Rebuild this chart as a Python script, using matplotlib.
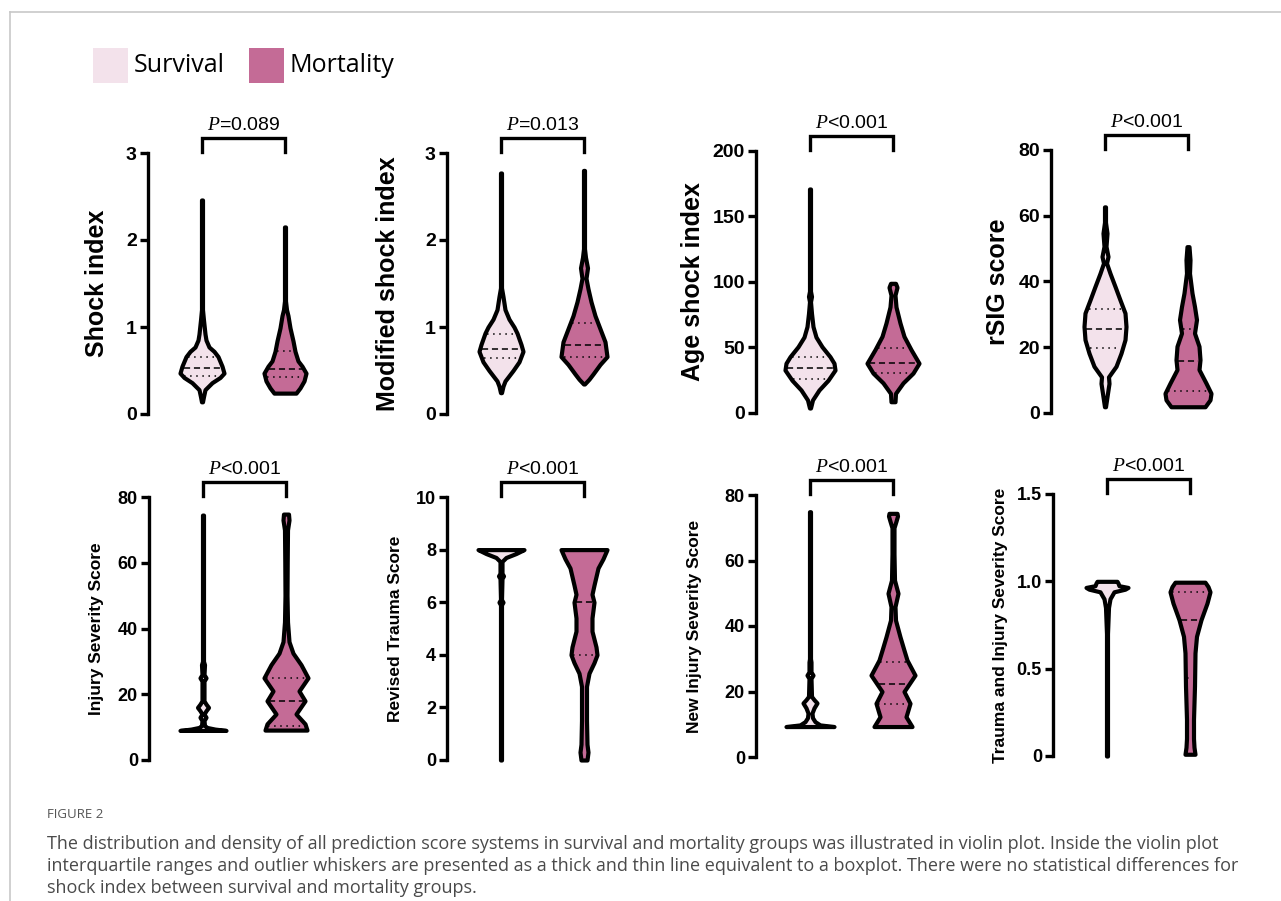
import numpy as np
import matplotlib.pyplot as plt
from matplotlib.patches import Rectangle
from matplotlib.lines import Line2D

plt.rcParams['font.family'] = ['Liberation Sans', 'DejaVu Sans']
plt.rcParams['mathtext.fontset'] = 'custom'
plt.rcParams['mathtext.it'] = 'Liberation Serif:italic'
plt.rcParams['mathtext.rm'] = 'Liberation Sans'

W, H = 1281, 901
SURV_COLOR = '#F3E2EB'
MORT_COLOR = '#C46B96'

# violin outlines: (score value, half width in px) for survival / mortality groups
SI_SURV = [(0.14, 0.5), (0.2, 1.5), (0.28, 3), (0.36, 10), (0.42, 18), (0.47, 22), (0.55, 20),
           (0.66, 16), (0.72, 12), (0.77, 7), (0.85, 4), (0.92, 3), (1.08, 1.5), (1.2, 0.5), (2.46, 0.5)]
SI_MORT = [(0.24, 11), (0.3, 15), (0.38, 19), (0.47, 21), (0.55, 17), (0.61, 13), (0.72, 10),
           (0.84, 8), (0.99, 5), (1.13, 3), (1.2, 1.5), (1.3, 0.5), (2.15, 0.5)]

MSI_SURV = [(0.245, 0.5), (0.32, 2), (0.38, 4), (0.5, 12), (0.6, 18), (0.72, 22), (0.8, 20),
            (0.93, 16), (1.0, 13), (1.09, 8), (1.2, 4), (1.35, 2), (1.45, 0.5), (2.77, 0.5)]
MSI_MORT = [(0.345, 0.5), (0.4, 5), (0.46, 9), (0.57, 16), (0.66, 23), (0.83, 21), (0.98, 16),
            (1.13, 11), (1.29, 7), (1.44, 4), (1.56, 2), (1.68, 3.5), (1.8, 1.5), (1.9, 0.5), (2.8, 0.5)]

ASI_SURV = [(3.8, 0.5), (10, 2.5), (17.6, 9), (25, 18), (32.8, 25), (38, 24), (43, 20), (50.6, 12),
            (58, 6), (66, 3), (76, 1.5), (85, 0.5), (89, 1.5), (93, 0.5), (171, 0.5)]
ASI_MORT = [(8.6, 2), (15, 2.5), (23, 10), (30.5, 20), (38, 26), (48.4, 18), (58.5, 11),
            (68.7, 7), (81, 3), (90, 2), (96, 4), (99, 2.5)]

RSIG_SURV = [(1.9, 0.5), (6, 2.5), (9, 4), (11, 3.5), (14.2, 11), (18.2, 16), (22.3, 20), (26.3, 21),
             (30.4, 20), (34.4, 15), (38.5, 10), (42.5, 5), (45.6, 1.5), (47.6, 3), (50.7, 1),
             (54.7, 2), (58, 0.5), (62.7, 0.5)]
RSIG_MORT = [(1.9, 17), (4, 22), (6, 23), (9.1, 18), (13.2, 11), (16.2, 12), (20.3, 11), (24.3, 6.5),
             (28.4, 8.5), (32.4, 6.5), (36.5, 4), (42.5, 1.5), (46.6, 2), (50.6, 1)]

ISS_SURV = [(9.0, 23), (9.4, 12), (9.9, 4), (10.5, 1.5), (12, 1), (13, 3), (14, 1), (15, 3),
            (16, 5.5), (17, 3), (18, 1), (24, 1), (25, 3), (26, 1), (29, 1.5), (30, 0.5), (74.5, 0.5)]
ISS_MORT = [(9.1, 21), (11, 19), (14, 10), (18, 19), (21, 13), (25, 22), (29, 15), (32.5, 7),
            (36, 3), (42, 1.5), (50, 1), (60, 1.2), (70, 1.5), (73, 3), (74.8, 2.5)]

RTS_SURV = [(0, 0.5), (5.9, 0.5), (6, 2), (6.1, 0.5), (6.9, 1), (7, 2.5), (7.1, 1), (7.55, 1),
            (7.7, 5), (7.85, 15), (8.0, 23)]
RTS_MORT = [(0, 3), (0.3, 4), (0.6, 3), (1.5, 2.5), (2.8, 2.5), (3.3, 5), (3.7, 10), (4.0, 13),
            (4.3, 12), (4.9, 8), (5.4, 8), (6.0, 10), (6.3, 8), (6.65, 10), (7.3, 14), (7.65, 19), (8.0, 23)]

NISS_SURV = [(9.3, 24), (9.8, 10), (10.8, 5), (12, 2.5), (13.4, 2), (15, 4), (16.5, 7), (17.5, 4),
             (18.5, 1.5), (24, 1), (25, 3), (26, 1), (29, 1), (30, 0.5), (74.9, 0.5)]
NISS_MORT = [(9.3, 19), (12.3, 13), (16.4, 17), (20, 11), (25, 22), (29.6, 14), (32.6, 11),
             (36.7, 7), (41.8, 2.5), (45.9, 2), (50, 5), (54, 1.5), (62, 1), (70, 1), (72, 3),
             (73.6, 4.5), (74.4, 4)]

TRISS_SURV = [(0, 0.5), (0.7, 0.5), (0.85, 1.5), (0.9, 3), (0.94, 7), (0.955, 18), (0.965, 21),
              (0.975, 12), (0.99, 11), (1.0, 10)]
TRISS_MORT = [(0.01, 5), (0.05, 4), (0.1, 3.5), (0.21, 3.5), (0.4, 4.5), (0.59, 5), (0.685, 6.5),
              (0.78, 11), (0.875, 17), (0.94, 20), (0.97, 18), (0.995, 15)]

# (Q1, median, Q3) per group; None where the lines are hidden in the outline
SI_Q = [(0.44, 0.53, 0.65), (0.43, 0.52, 0.72)]
MSI_Q = [(0.64, 0.75, 0.92), (0.65, 0.79, 1.05)]
ASI_Q = [(26, 34, 43), (30.5, 38, 49.6)]
RSIG_Q = [(19.7, 25.5, 31.6), (6.6, 15.7, 25.7)]
ISS_Q = [None, (10.3, 18, 25)]
RTS_Q = [None, (4.0, 6.0, None)]
NISS_Q = [None, (16.2, 22.3, 29)]
TRISS_Q = [None, (0.446, 0.78, 0.94)]

TITLES = ['Shock index', 'Modified shock index', 'Age shock index', 'rSIG score',
          'Injury Severity Score', 'Revised Trauma Score', 'New Injury Severity Score',
          'Trauma and Injury Severity Score']
P_TEXT = ['=0.089', '=0.013', '<0.001', '<0.001', '<0.001', '<0.001', '<0.001', '<0.001']
Y_TICKS = [[0, 1, 2, 3], [0, 1, 2, 3], [0, 50, 100, 150, 200], [0, 20, 40, 60, 80],
           [0, 20, 40, 60, 80], [0, 2, 4, 6, 8, 10], [0, 20, 40, 60, 80], [0, 0.5, 1.0, 1.5]]
Y_TICKLABELS = [None, None, None, None, None, None, None, ['0', '0.5', '1.0', '1.5']]

PROFILES = [(SI_SURV, SI_MORT), (MSI_SURV, MSI_MORT), (ASI_SURV, ASI_MORT), (RSIG_SURV, RSIG_MORT),
            (ISS_SURV, ISS_MORT), (RTS_SURV, RTS_MORT), (NISS_SURV, NISS_MORT), (TRISS_SURV, TRISS_MORT)]
QUARTILES = [SI_Q, MSI_Q, ASI_Q, RSIG_Q, ISS_Q, RTS_Q, NISS_Q, TRISS_Q]

# panel frames in pixels: spine x, top tick y, zero y, ylabel offset
FRAMES = [(148, 153, 414, 51), (447, 153, 414, 59), (756, 151, 413, 63), (1051, 150, 413, 53),
          (149, 497, 760, 52), (447, 497, 760, 52), (756, 495, 757, 62), (1053, 494, 756, 53)]
AX_W = 200
UNIT = 83  # px per category step
X0 = 54    # px from spine to first violin

fig = plt.figure(figsize=(W / 100, H / 100), dpi=100)

# frame lines round the figure panel
fig.add_artist(Line2D([10 / W, 1], [1 - 12 / H, 1 - 12 / H], color='#c8c8c8', lw=1.2))
fig.add_artist(Line2D([10 / W, 10 / W], [0, 1 - 12 / H], color='#c8c8c8', lw=1.2))

# legend
for x, col, name in [(93, SURV_COLOR, 'Survival'), (249, MORT_COLOR, 'Mortality')]:
    fig.add_artist(Rectangle((x / W, 1 - 83 / H), 35 / W, 35 / H, facecolor=col,
                             edgecolor='none', transform=fig.transFigure))
    fig.text((x + 41) / W, 1 - 66 / H, name, fontsize=18, family=['Open Sans', 'DejaVu Sans'],
             va='center', ha='left')


def draw_violin(ax, center, profile, color, quart):
    v = np.array([p[0] for p in profile])
    w = np.array([p[1] for p in profile]) / UNIT
    ax.fill_betweenx(v, center - w, center + w, facecolor=color, edgecolor='black',
                     linewidth=3.0, joinstyle='round', clip_on=False, zorder=2)
    if quart is None:
        return
    for q, ls in zip(quart, [(0, (1, 3)), (0, (4, 2.5)), (0, (1, 3))]):
        if q is None:
            continue
        hw = np.interp(q, v, w) - 2 / UNIT
        ax.plot([center - hw, center + hw], [q, q], color='black', lw=1.1, ls=ls,
                zorder=3, clip_on=False)


for i in range(8):
    sx, ytop, yzero, loff = FRAMES[i]
    ax_h = yzero - ytop
    ax = fig.add_axes([sx / W, 1 - yzero / H, AX_W / W, ax_h / H])
    ticks = Y_TICKS[i]
    ax.set_ylim(0, ticks[-1])
    ax.set_xlim(-X0 / UNIT, (AX_W - X0) / UNIT)
    for s in ['top', 'right', 'bottom']:
        ax.spines[s].set_visible(False)
    ax.spines['left'].set_linewidth(2.4)
    ax.set_xticks([])
    ax.set_yticks(ticks)
    if Y_TICKLABELS[i]:
        ax.set_yticklabels(Y_TICKLABELS[i])
    big = i < 4
    ax.tick_params(axis='y', length=6, width=2.4, pad=2, labelsize=14 if big else 13)
    for lab in ax.get_yticklabels():
        lab.set_fontweight('bold')
    ax.patch.set_alpha(0)

    surv, mort = PROFILES[i]
    draw_violin(ax, 0, surv, SURV_COLOR, QUARTILES[i][0])
    draw_violin(ax, 1, mort, MORT_COLOR, QUARTILES[i][1])

    # axis title
    ax.text(-loff / AX_W, 0.5, TITLES[i], transform=ax.transAxes, rotation=90,
            ha='center', va='center', fontsize=18 if big else 12.5, fontweight='bold')

    # significance bracket
    tr = ax.get_xaxis_transform()
    top = 1 + 15 / ax_h
    ax.plot([0, 0, 1, 1], [1 + 1 / ax_h, top, top, 1 + 1 / ax_h], color='black', lw=2.4,
            transform=tr, clip_on=False, solid_joinstyle='miter')
    ax.text(0.5, top + 8 / ax_h, r'$\mathit{P}$' + P_TEXT[i], transform=tr, ha='center',
            va='baseline', fontsize=14)

# caption
cap_font = ['Open Sans', 'DejaVu Sans']
fig.text(47 / W, 1 - 815 / H, 'FIGURE 2', fontsize=9.5, color='#555555', family=cap_font,
         va='center')
caption = ['The distribution and density of all prediction score systems in survival and mortality groups '
           'was illustrated in violin plot. Inside the violin plot',
           'interquartile ranges and outlier whiskers are presented as a thick and thin line equivalent '
           'to a boxplot. There were no statistical differences for',
           'shock index between survival and mortality groups.']
for k, line in enumerate(caption):
    fig.text(47 / W, 1 - (844 + 22 * k) / H, line, fontsize=13.0, color='#4a4a4a',
             family=cap_font, va='center')

fig.savefig('out.png', dpi=100)
